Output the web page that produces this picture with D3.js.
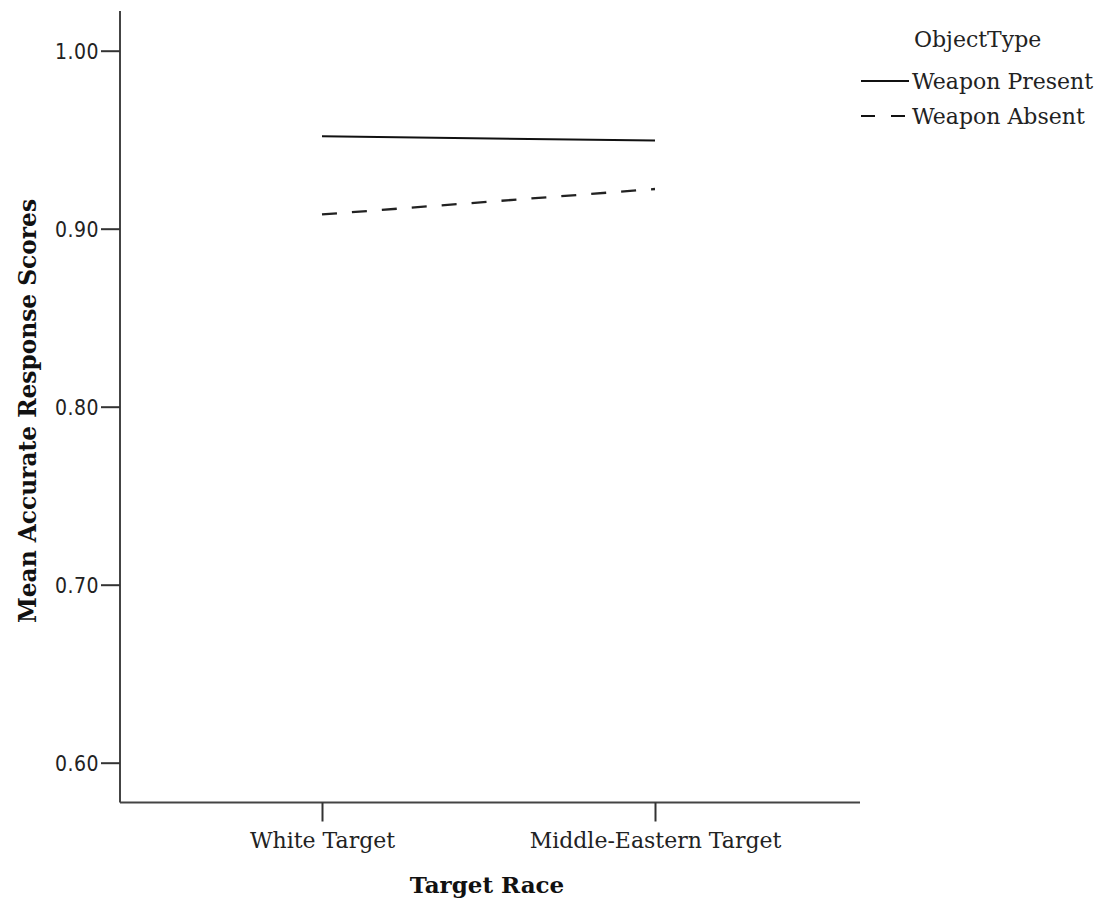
<!DOCTYPE html>
<html><head><meta charset="utf-8">
<script src="https://cdn.jsdelivr.net/npm/d3@7"></script>
<style>body{margin:0;background:#fff}</style>
</head><body>
<script>
const categories = ["White Target", "Middle-Eastern Target"];
const seriesNames = ["Weapon Present", "Weapon Absent"];
const weaponPresent = [0.952, 0.9495];
const weaponAbsent = [0.908, 0.9223];
const yTicks = [0.60, 0.70, 0.80, 0.90, 1.00];

const W = 1104, H = 902;
const svg = d3.select("body").append("svg").attr("width", W).attr("height", H);

const axLeft = 120, axRight = 860, axTop = 11, axBottom = 802.5;
const y = d3.scaleLinear().domain([0.6, 1.0]).range([762.7, 50.7]);
const x = d3.scalePoint().domain(categories).range([322, 655]);

const serif = "'DejaVu Serif',serif";

// axes
const yAxis = d3.axisLeft(y).tickValues(yTicks).tickFormat(d3.format(".2f")).tickSize(19).tickSizeOuter(0).tickPadding(2);
const gy = svg.append("g").attr("transform", `translate(${axLeft},0)`).call(yAxis);
gy.select(".domain").attr("d", `M0,${axTop}V${axBottom}`).attr("stroke", "#444").attr("stroke-width", 2);
gy.selectAll(".tick line").attr("stroke", "#333").attr("stroke-width", 2);
gy.selectAll(".tick text").attr("font-family", "'DejaVu Sans Condensed','DejaVu Sans',sans-serif")
  .style("font-stretch", "condensed").attr("font-size", 21).attr("letter-spacing", 0.5).attr("fill", "#222").attr("dy", "0.36em");

const xAxis = d3.axisBottom(x).tickSize(19).tickSizeOuter(0).tickPadding(7);
const gx = svg.append("g").attr("transform", `translate(0,${axBottom})`).call(xAxis);
gx.select(".domain").attr("d", `M${axLeft},0H${axRight}`).attr("stroke", "#444").attr("stroke-width", 2);
gx.selectAll(".tick line").attr("stroke", "#333").attr("stroke-width", 2);
gx.selectAll(".tick text").attr("font-family", serif).attr("font-size", 22).attr("fill", "#222")
  .attr("y", 45.5).attr("dy", null);

// titles
svg.append("text").attr("x", 487).attr("y", 893).attr("text-anchor", "middle")
  .attr("font-family", serif).attr("font-weight", "bold").attr("font-size", 23).attr("fill", "#111")
  .text("Target Race");
svg.append("text").attr("transform", "translate(36,411) rotate(-90)").attr("text-anchor", "middle")
  .attr("font-family", serif).attr("font-weight", "bold").attr("font-size", 23.3).attr("fill", "#111")
  .text("Mean Accurate Response Scores");

// lines
const line = d3.line().x((d, i) => x(categories[i])).y(d => y(d));
svg.append("path").datum(weaponPresent).attr("d", line).attr("fill", "none").attr("stroke", "#111").attr("stroke-width", 2);
svg.append("path").datum(weaponAbsent).attr("d", line).attr("fill", "none").attr("stroke", "#222").attr("stroke-width", 2.3)
  .attr("stroke-dasharray", "15,15");

// legend
svg.append("text").attr("x", 914).attr("y", 47).attr("font-family", serif).attr("font-size", 22).attr("fill", "#222").text("ObjectType");
const dashes = [null, "14,16"];
seriesNames.forEach((s, i) => {
  const ly = 81 + i * 35;
  svg.append("line").attr("x1", 861).attr("x2", 909).attr("y1", ly).attr("y2", ly)
    .attr("stroke", "#111").attr("stroke-width", 2).attr("stroke-dasharray", dashes[i]);
  svg.append("text").attr("x", 912).attr("y", ly + 8).attr("font-family", serif).attr("font-size", 22).attr("fill", "#222").text(s);
});
</script>
</body></html>
